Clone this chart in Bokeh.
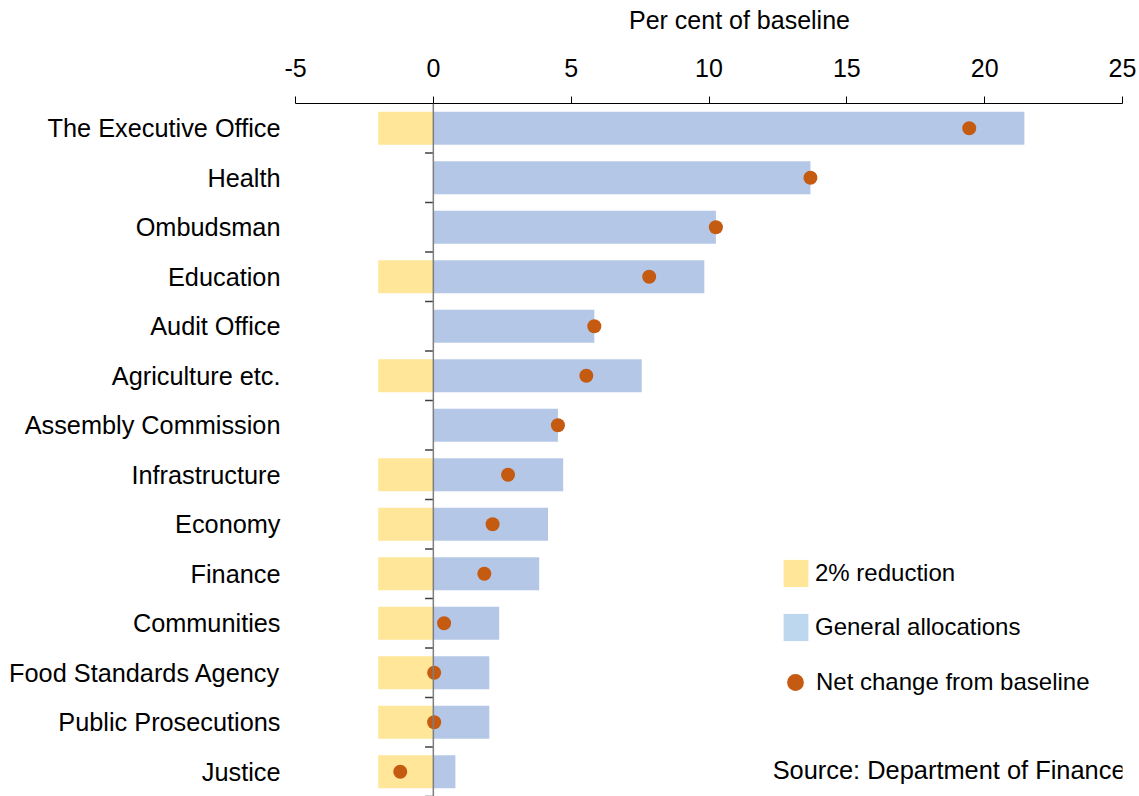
from bokeh.plotting import figure
from bokeh.models import (ColumnDataSource, FactorRange, Range1d, FixedTicker, Span,
                          Legend, LegendItem, Label)
from bokeh.embed import file_html
from bokeh.resources import INLINE

# ---- data ----
departments = ["The Executive Office", "Health", "Ombudsman", "Education", "Audit Office",
               "Agriculture etc.", "Assembly Commission", "Infrastructure", "Economy",
               "Finance", "Communities", "Food Standards Agency", "Public Prosecutions",
               "Justice"]
reduction = [-2, 0, 0, -2, 0, -2, 0, -2, -2, -2, -2, -2, -2, -2]
general = [21.44, 13.68, 10.25, 9.83, 5.84, 7.56, 4.52, 4.71, 4.16, 3.84, 2.39, 2.03, 2.03, 0.80]
net_change = [19.44, 13.68, 10.25, 7.83, 5.84, 5.55, 4.52, 2.71, 2.15, 1.85, 0.39, 0.03, 0.03, -1.20]
x_ticks = [-5, 0, 5, 10, 15, 20, 25]
x_tick_labels = {t: str(t) for t in x_ticks}

FONT = "Liberation Sans"
C_RED = "#FFE699"
C_GEN = "#B4C7E7"
C_GEN_LEG = "#BDD7EE"
C_DOT = "#C55A11"

src = ColumnDataSource(dict(dept=departments, red=reduction, gen=general, net=net_change,
                            zero=[0] * len(departments)))

factors = list(reversed(departments))
p = figure(width=1139, height=796, y_range=FactorRange(factors=factors, range_padding=0),
           x_range=Range1d(-5, 25), x_axis_location="above",
           output_backend="svg", toolbar_location=None,
           min_border_left=295, min_border_right=17, min_border_top=103, min_border_bottom=0)
p.outline_line_color = None
p.xgrid.visible = False
p.ygrid.visible = False
p.background_fill_color = "white"

p.hbar(y="dept", left="red", right="zero", height=0.667, source=src,
       fill_color=C_RED, line_color=None)
p.hbar(y="dept", left="zero", right="gen", height=0.667, source=src,
       fill_color=C_GEN, line_color=None)

# vertical zero axis with small ticks between categories
p.add_layout(Span(location=0, dimension="height", line_color="#7f7f7f", line_width=1.5))
tick_src = ColumnDataSource(dict(y=[(d, -0.5) for d in departments],
                                 x0=[-0.3] * len(departments), x1=[0] * len(departments)))
p.segment(x0="x0", x1="x1", y0="y", y1="y", source=tick_src, line_color="#404040", line_width=1.5)

p.scatter(x="net", y="dept", size=14, source=src, fill_color=C_DOT, line_color=None)

# top x axis
xa = p.xaxis[0]
xa.ticker = FixedTicker(ticks=x_ticks)
xa.major_label_overrides = x_tick_labels
xa.minor_tick_line_color = None
xa.major_tick_out = 7
xa.major_tick_in = 0
xa.axis_line_color = "black"
xa.major_tick_line_color = "black"
xa.major_label_text_font = FONT
xa.major_label_text_font_size = "25px"
xa.major_label_text_color = "black"
xa.major_label_standoff = 20

# axis title in the panel above the axis, slightly right of the frame centre
p.add_layout(Label(x=444, y=36, x_units="screen", y_units="screen",
                   text="Per cent of baseline", text_align="center",
                   text_baseline="middle", text_font=FONT, text_font_size="25px",
                   text_color="black"), "above")

ya = p.yaxis[0]
ya.axis_line_color = None
ya.major_tick_line_color = None
ya.minor_tick_line_color = None
ya.major_tick_out = 0
ya.major_tick_in = 0
ya.major_label_standoff = 15
ya.major_label_text_font = FONT
ya.major_label_text_font_size = "25.3px"
ya.major_label_text_color = "black"

# legend (renderers with no visible extent, used only for the legend swatches)
nan = float("nan")
dummy = ColumnDataSource(dict(y=[departments[0]], l=[nan], r=[nan], x=[nan]))
r_red = p.hbar(y="y", left="l", right="r", height=0.5, source=dummy, fill_color=C_RED, line_color=None)
r_gen = p.hbar(y="y", left="l", right="r", height=0.5, source=dummy, fill_color=C_GEN_LEG, line_color=None)
r_dot = p.scatter(x="x", y="y", size=14, source=dummy, fill_color=C_DOT, line_color=None)

leg1 = Legend(items=[LegendItem(label="2% reduction", renderers=[r_red]),
                     LegendItem(label="General allocations", renderers=[r_gen])],
              location=(485, 152), glyph_width=31, glyph_height=34, spacing=20,
              label_standoff=4, padding=0, margin=0, border_line_color=None,
              background_fill_alpha=0, label_text_font=FONT, label_text_font_size="24px",
              label_text_color="black")
leg2 = Legend(items=[LegendItem(label="Net change from baseline", renderers=[r_dot])],
              location=(479, 93), glyph_width=42, glyph_height=42,
              label_standoff=-1, padding=0, margin=0, border_line_color=None,
              background_fill_alpha=0, label_text_font=FONT, label_text_font_size="24px",
              label_text_color="black")
p.add_layout(leg1, "center")
p.add_layout(leg2, "center")

p.add_layout(Label(x=830, y=27, x_units="screen", y_units="screen",
                   text="Source: Department of Finance", text_align="right",
                   text_baseline="middle", text_font=FONT, text_font_size="25.4px",
                   text_color="black"))

open("out.html", "w").write(file_html(p, INLINE))
